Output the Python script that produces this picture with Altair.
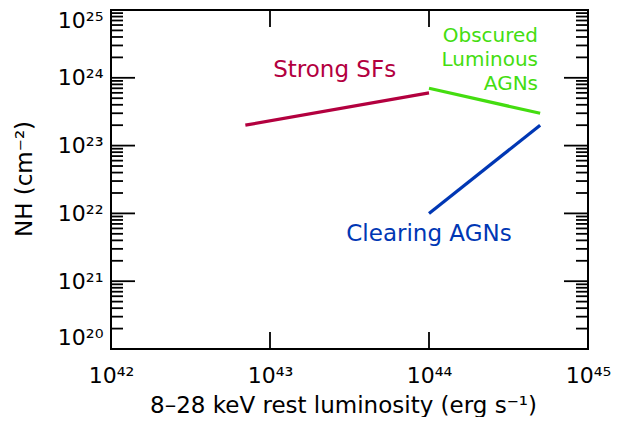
import altair as alt
import pandas as pd

# ---- data ----
series = ["Strong SFs", "Strong SFs",
          "Obscured Luminous AGNs", "Obscured Luminous AGNs",
          "Clearing AGNs", "Clearing AGNs"]
luminosity = [7.0e42, 1.0e44, 1.0e44, 5.0e44, 1.0e44, 5.0e44]
nh = [2.0e23, 6.0e23, 7.0e23, 3.0e23, 1.0e22, 2.0e23]

label_text = ["Strong SFs", "Obscured\nLuminous\nAGNs", "Clearing AGNs"]
label_lum = [2.55e43, 4.85e44, 1.0e44]
label_nh = [1.03e24, 3.37e24, 3.9e21]
label_align = ["center", "right", "center"]

series_names = ["Strong SFs", "Obscured Luminous AGNs", "Clearing AGNs"]
series_colors = ["#b3003f", "#44dd10", "#0037b4"]

x_ticks = [1e42, 1e43, 1e44, 1e45]
x_tick_labels = ["10⁴²", "10⁴³", "10⁴⁴", "10⁴⁵"]
y_ticks = [1e20, 1e21, 1e22, 1e23, 1e24, 1e25]
y_tick_labels = ["10²⁰", "10²¹", "10²²", "10²³", "10²⁴", "10²⁵"]
y_minor = [m * 10.0 ** e for e in range(20, 25) for m in range(2, 10)]

W, H = 477, 339
FONT = "DejaVu Sans"

df = pd.DataFrame({"series": series, "lum": luminosity, "nh": nh})
labels = pd.DataFrame({"text": label_text, "lum": label_lum, "nh": label_nh,
                       "series": series_names, "align": label_align})

def expr_list(lst):
    return "[" + ",".join("'" + s + "'" for s in lst) + "]"

xscale = alt.Scale(type="log", domain=[1e42, 1e45], nice=False)
yscale = alt.Scale(type="log", domain=[1e20, 1e25], nice=False)
cscale = alt.Scale(domain=series_names, range=series_colors)

xaxis = alt.Axis(
    values=x_ticks, title="8–28 keV rest luminosity (erg s⁻¹)",
    labelExpr=expr_list(x_tick_labels) + "[round(log(datum.value)/LN10) - 42]",
    grid=False, ticks=False, tickSize=0, domain=False, labelFlush=False,
    labelOverlap=False, labelPadding=16, labelFontSize=22, labelFont=FONT,
    labelColor="black", titleFont=FONT, titleFontSize=23, titleFontWeight="normal",
    titleColor="black", titleX=232, titleY=63, titleBaseline="alphabetic",
    titleAlign="center")
yaxis = alt.Axis(
    values=y_ticks, title="NH (cm⁻²)",
    labelExpr=expr_list(y_tick_labels) + "[round(log(datum.value)/LN10) - 20]",
    grid=False, ticks=False, tickSize=0, domain=False, labelFlush=True,
    labelOverlap=False, labelPadding=8, labelFontSize=22, labelFont=FONT,
    labelColor="black", titleFont=FONT, titleFontSize=23, titleFontWeight="normal",
    titleColor="black", titleX=-80, titleY=168.5, titleBaseline="alphabetic",
    titleAlign="center", titleAngle=-90)

lines = alt.Chart(df).mark_line(strokeWidth=3.2, strokeCap="butt").encode(
    x=alt.X("lum:Q", scale=xscale, axis=xaxis),
    y=alt.Y("nh:Q", scale=yscale, axis=yaxis),
    color=alt.Color("series:N", scale=cscale, legend=None),
    detail="series:N",
)

def text_layer(align, size, line_height):
    return alt.Chart(labels).transform_filter(
        alt.datum.align == align
    ).mark_text(
        font=FONT, fontSize=size, baseline="alphabetic", lineBreak="\n",
        lineHeight=line_height, align=align
    ).encode(
        x=alt.X("lum:Q", scale=xscale),
        y=alt.Y("nh:Q", scale=yscale),
        text="text:N",
        color=alt.Color("series:N", scale=cscale, legend=None),
    )

ytick_major = pd.DataFrame({"v": y_ticks})
ytick_minor = pd.DataFrame({"v": y_minor})
xtick_major = pd.DataFrame({"v": x_ticks})

tick_style = dict(color="black", strokeWidth=1.8)

yl_major = alt.Chart(ytick_major).mark_rule(**tick_style).encode(
    y=alt.Y("v:Q", scale=yscale), x=alt.value(0), x2=alt.value(24))
yr_major = alt.Chart(ytick_major).mark_rule(**tick_style).encode(
    y=alt.Y("v:Q", scale=yscale), x=alt.value(W), x2=alt.value(W - 24))
yl_minor = alt.Chart(ytick_minor).mark_rule(**tick_style).encode(
    y=alt.Y("v:Q", scale=yscale), x=alt.value(0), x2=alt.value(12))
yr_minor = alt.Chart(ytick_minor).mark_rule(**tick_style).encode(
    y=alt.Y("v:Q", scale=yscale), x=alt.value(W), x2=alt.value(W - 12))
xb_major = alt.Chart(xtick_major).mark_rule(**tick_style).encode(
    x=alt.X("v:Q", scale=xscale), y=alt.value(H), y2=alt.value(H - 17))
xt_major = alt.Chart(xtick_major).mark_rule(**tick_style).encode(
    x=alt.X("v:Q", scale=xscale), y=alt.value(0), y2=alt.value(17))

chart = alt.layer(
    lines, yl_major, yr_major, yl_minor, yr_minor, xb_major, xt_major,
    text_layer("center", 23, 23), text_layer("right", 20, 24)
).properties(
    width=W, height=H,
    background="white",
    autosize=alt.AutoSizeParams(type="none"),
    padding={"left": 103, "top": 2, "right": 33, "bottom": 68},
).configure_view(
    stroke="black", strokeWidth=2
)

chart.save("out.html", embed_options={"renderer": "svg", "actions": False})
